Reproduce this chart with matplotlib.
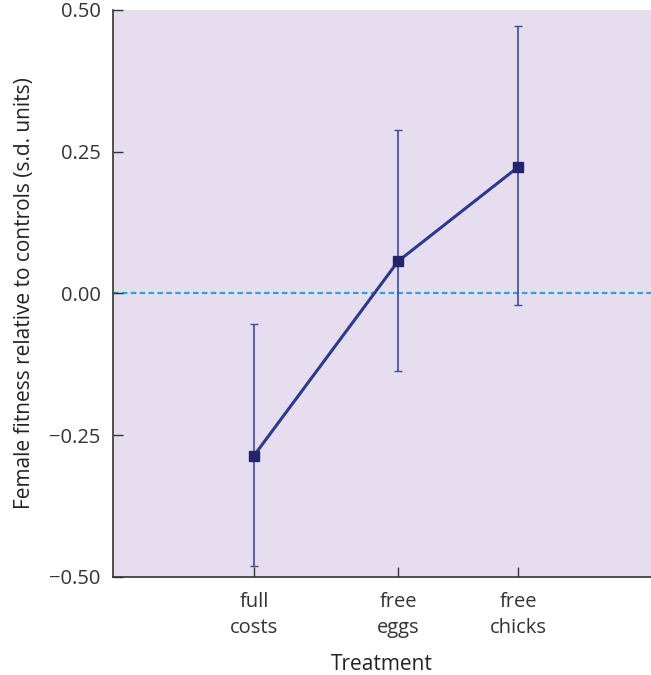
import matplotlib.pyplot as plt
import numpy as np

plt.rcParams["font.family"] = ["Open Sans", "DejaVu Sans"]
plt.rcParams["xtick.direction"] = "in"
plt.rcParams["ytick.direction"] = "in"

treatments = ["full\ncosts", "free\neggs", "free\nchicks"]
fitness = [-0.286, 0.057, 0.223]
ci_low = [-0.481, -0.137, -0.020]
ci_high = [-0.054, 0.288, 0.472]
x_pos = [0.262, 0.530, 0.753]


def main() -> None:
    fig = plt.figure(figsize=(6.51, 6.75), dpi=100)
    ax = fig.add_axes([0.1736, 0.1452, 0.8264, 0.8400])
    ax.set_facecolor("#e6deee")

    fit = np.array(fitness)
    yerr = [fit - np.array(ci_low), np.array(ci_high) - fit]

    ax.axhline(0, color="#1fa9e1", linestyle=(0, (2.5, 1.5)), linewidth=1.6, zorder=1)

    ax.errorbar(x_pos, fit, yerr=yerr, fmt="none", ecolor="#3b4aa6",
                elinewidth=1.2, capsize=3, capthick=1.0, zorder=2)
    ax.plot(x_pos, fit, color="#2b3990", linewidth=2.2, zorder=3)
    ax.plot(x_pos, fit, linestyle="none", marker="s", markersize=6.5,
            color="#25236b", zorder=4)

    ax.set_xlim(0, 1)
    ax.set_ylim(-0.5, 0.5)
    ax.set_yticks([-0.5, -0.25, 0, 0.25, 0.5])
    ax.set_yticklabels(["\u22120.50", "\u22120.25", "0.00", "0.25", "0.50"])
    ax.set_xticks(x_pos)
    ax.set_xticklabels(treatments, linespacing=1.35)

    ax.tick_params(direction="in", length=7, width=1, color="#333333",
                   labelsize=14.5, labelcolor="#333333")
    ax.tick_params(axis="x", pad=11)
    ax.tick_params(axis="y", pad=9)

    for side in ["top", "right"]:
        ax.spines[side].set_visible(False)
    for side in ["left", "bottom"]:
        ax.spines[side].set_color("#333333")
        ax.spines[side].set_linewidth(1.2)

    ax.set_xlabel("Treatment", fontsize=15, color="#222222", labelpad=12)
    ax.set_ylabel("Female fitness relative to controls (s.d. units)",
                  fontsize=15, color="#222222", labelpad=10)

    fig.savefig("out.png", dpi=100)


if __name__ == "__main__":
    main()
